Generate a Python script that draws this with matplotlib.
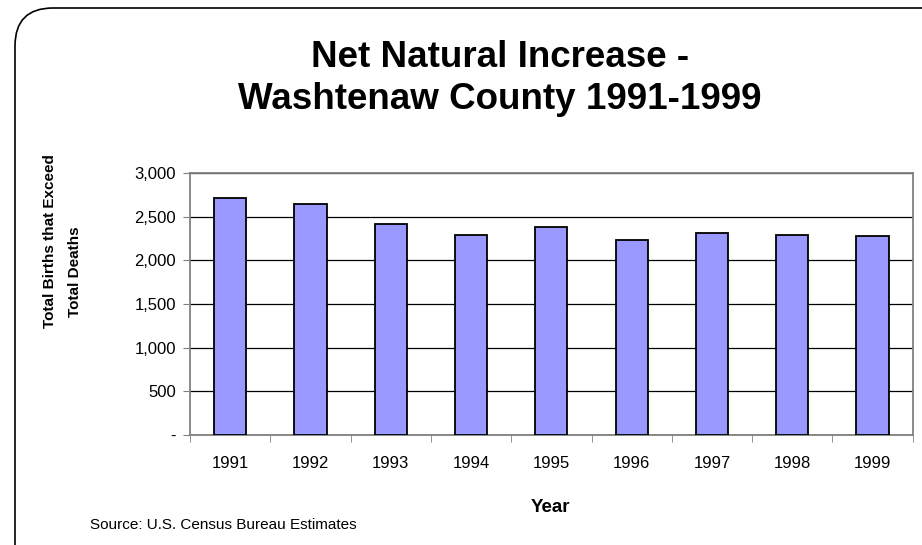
import numpy as np
import matplotlib.pyplot as plt
from matplotlib.patches import FancyBboxPatch
from matplotlib.ticker import FuncFormatter

plt.rcParams['font.family'] = ['Liberation Sans', 'DejaVu Sans']

years = ['1991', '1992', '1993', '1994', '1995', '1996', '1997', '1998', '1999']
net_increase = [2710, 2650, 2412, 2294, 2382, 2229, 2313, 2294, 2275]

W, H = 922, 545
fig = plt.figure(figsize=(W / 100, H / 100), dpi=100)

# rounded frame, drawn in pixel coordinates
bg = fig.add_axes([0, 0, 1, 1])
bg.set_xlim(0, W)
bg.set_ylim(H, 0)
bg.axis('off')
bg.add_patch(FancyBboxPatch((15, 8), 960, 600,
                            boxstyle='round,pad=0,rounding_size=38',
                            fc='white', ec='black', lw=1.2))

ax = fig.add_axes([190 / W, 1 - 435 / H, 722.7 / W, 262 / H])
x = np.arange(len(years))
ax.bar(x, net_increase, width=0.4, color='#9999FF', edgecolor='black',
       linewidth=1.3, zorder=3)

ax.set_xlim(-0.5, len(years) - 0.5)
ax.set_ylim(0, 3000)
ax.set_yticks(np.arange(0, 3001, 500))
ax.yaxis.set_major_formatter(
    FuncFormatter(lambda v, p: '-' if v == 0 else f'{int(v):,}'))
ax.grid(axis='y', color='black', linewidth=0.9, zorder=0)

ax.set_xticks(x)
ax.set_xticklabels(years)
ax.set_xticks(np.arange(-0.5, len(years)), minor=True)
ax.tick_params(axis='x', which='major', length=0, pad=15, labelsize=12)
ax.tick_params(axis='x', which='minor', length=5, color='#808080', direction='out')
ax.tick_params(axis='y', length=5, color='#808080', pad=5, labelsize=12)

for s in ax.spines.values():
    s.set_color('#808080')
    s.set_linewidth(1.3)

# title, one text per line so each baseline can be placed
fig.text(500 / W, 1 - 67 / H, 'Net Natural Increase -', ha='center',
         va='baseline', fontsize=26.5, fontweight='bold')
fig.text(500 / W, 1 - 109 / H, 'Washtenaw County 1991-1999', ha='center',
         va='baseline', fontsize=26.5, fontweight='bold')

# y label, two lines placed separately
fig.text(50 / W, 1 - 241 / H, 'Total Births that Exceed', rotation=90,
         ha='center', va='center', fontsize=11, fontweight='bold')
fig.text(75 / W, 1 - 272 / H, 'Total Deaths', rotation=90,
         ha='center', va='center', fontsize=11, fontweight='bold')

fig.text(550 / W, 1 - 508 / H, 'Year', ha='center', va='center', fontsize=13.5,
         fontweight='bold')
fig.text(90 / W, 1 - 525 / H, 'Source: U.S. Census Bureau Estimates',
         ha='left', va='center', fontsize=11)

fig.savefig('out.png', dpi=100)
